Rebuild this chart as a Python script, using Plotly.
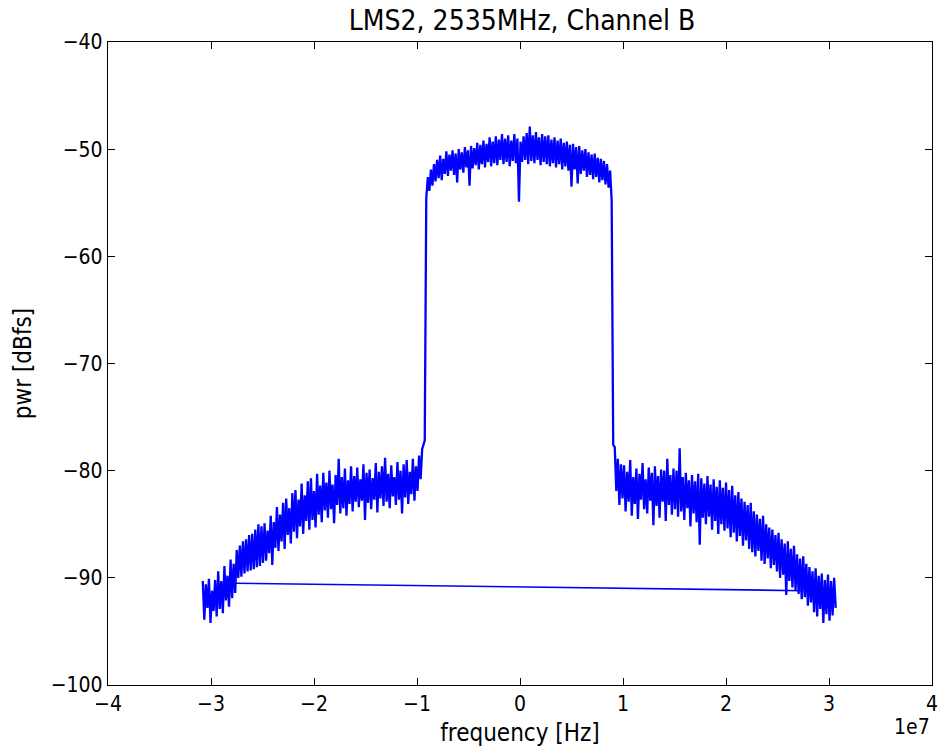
import numpy as np
import plotly.graph_objects as go

# ---- data (frequency in Hz, power in dBFS) ----
left_skirt_range = (-3.08e7, -0.95e7)
left_skirt_dbfs = [
    -90.3, -93.9, -90.6, -92.8, -90.1, -94.2, -91.2, -93.1, -90.2, -93.6,
    -89.4, -92.9, -90.3, -93.3, -88.9, -92.1, -89.8, -92.7, -88.3, -91.9,
    -88.7, -91.4, -87.4, -90.0, -87.0, -89.9, -86.6, -89.6, -86.4, -89.4,
    -86.0, -89.3, -85.9, -89.2, -85.5, -89.0, -85.0, -88.9, -85.2, -88.6,
    -84.9, -88.4, -85.6, -87.7, -84.2, -88.8, -84.8, -87.2, -83.4, -87.5,
    -84.1, -86.6, -83.0, -87.3, -82.6, -86.0, -83.5, -86.8, -82.1, -85.7,
    -81.8, -86.3, -82.7, -85.2, -81.2, -85.9, -82.3, -84.7, -81.0, -85.5,
    -80.7, -84.6, -81.9, -85.3, -80.3, -84.1, -81.4, -84.8, -80.2, -83.7,
    -81.1, -84.4, -80.0, -83.6, -81.3, -84.9, -80.4, -83.2, -78.9, -84.0,
    -80.6, -83.5, -79.8, -84.2, -80.9, -83.1, -79.6, -83.8, -80.5, -82.9,
    -79.7, -83.4, -80.8, -82.8, -79.4, -84.6, -80.2, -83.0, -79.9, -83.6,
    -80.7, -82.7, -79.3, -83.9, -80.1, -82.6, -79.6, -83.3, -78.8, -82.9,
    -80.3, -83.5, -79.5, -82.4, -80.6, -83.2, -79.2, -82.7, -80.0, -84.0,
    -79.4, -82.5, -79.0, -83.1, -80.1, -82.2, -78.9, -82.8, -79.6, -81.9,
    -78.6, -80.8, -78.0,
]

passband_range = (-0.925e7, 0.905e7)
passband_dbfs = [
    -77.2, -54.6, -52.6, -53.9, -51.9, -53.4, -51.4, -53.0, -51.0, -52.7,
    -50.6, -52.9, -50.9, -52.3, -50.2, -52.5, -50.5, -52.0, -50.1, -52.4,
    -50.4, -53.1, -50.0, -51.9, -50.3, -52.2, -49.8, -51.7, -50.1, -53.4,
    -49.7, -51.8, -49.9, -51.5, -49.4, -51.9, -49.6, -51.4, -49.2, -51.7,
    -49.5, -51.2, -48.9, -51.6, -49.3, -51.3, -48.8, -51.5, -49.1, -51.0,
    -48.6, -51.4, -49.0, -51.2, -48.7, -51.6, -49.2, -51.1, -48.6, -51.3,
    -49.0, -54.9, -49.3, -51.2, -48.8, -51.0, -48.5, -51.4, -47.9, -51.1,
    -48.7, -51.3, -48.4, -51.0, -48.9, -51.5, -48.6, -51.2, -48.8, -51.4,
    -48.7, -51.6, -49.1, -51.3, -48.9, -51.7, -49.2, -51.4, -49.0, -51.9,
    -49.4, -51.6, -49.3, -52.0, -49.6, -53.5, -49.5, -51.9, -49.8, -53.2,
    -49.7, -52.3, -50.1, -52.0, -50.0, -52.6, -50.3, -52.4, -50.5, -52.8,
    -50.4, -52.6, -50.8, -53.1, -50.9, -52.9, -51.1, -53.3, -51.4, -53.6,
    -52.0, -54.8, -77.6,
]

right_skirt_range = (0.92e7, 3.065e7)
right_skirt_dbfs = [
    -77.8, -81.9, -78.9, -83.2, -79.4, -82.6,
    -79.5, -83.8, -80.1, -82.9, -79.0, -84.2, -80.6, -83.1, -79.8, -84.5, -80.3, -82.7, -79.3, -83.6, -80.8, -84.0, -79.7,
    -82.8, -80.2, -85.1, -79.6, -83.3, -80.5, -84.4, -79.9, -82.9, -80.0, -84.7, -78.9, -83.2, -80.4, -84.1, -79.8, -83.6,
    -80.0, -84.3, -77.9, -83.8, -80.6, -84.6, -80.2, -83.5, -80.9, -85.2, -80.4, -84.0, -81.0, -84.8, -80.3, -86.9, -80.7,
    -84.4, -81.2, -85.0, -80.5, -84.3, -81.3, -85.5, -80.8, -84.7, -81.5, -85.9, -80.9, -85.0, -81.6, -85.6, -81.1,
    -85.4, -81.8, -86.2, -81.4, -85.8, -82.3, -86.6, -82.0, -86.1, -82.6, -87.0, -82.9, -86.5, -83.2, -87.3, -83.0, -87.6,
    -83.8, -88.0, -84.1, -87.5, -84.5, -88.4, -84.2, -88.7, -85.0, -88.2, -85.3, -89.1, -85.5, -88.8, -86.0, -89.4, -85.8,
    -90.0, -86.4, -89.7, -86.8, -91.6, -86.6, -90.3, -87.3, -90.9, -87.0, -91.2, -87.8, -91.5, -88.2, -92.0, -88.0, -91.8,
    -88.7, -92.6, -89.0, -92.3, -89.4, -93.2, -89.1, -93.6, -89.8, -92.9, -89.6, -94.2, -90.2, -93.4, -89.7, -94.0, -90.3,
    -93.5, -90.0, -92.8,
]

# straight wrap-around segment joining the two skirts
wrap_freq = [-2.77e7, 2.75e7]
wrap_dbfs = [-90.5, -91.2]

x_tick_vals = [-4e7, -3e7, -2e7, -1e7, 0, 1e7, 2e7, 3e7, 4e7]
x_tick_text = ["\u22124", "\u22123", "\u22122", "\u22121", "0", "1", "2", "3", "4"]
y_tick_vals = [-100, -90, -80, -70, -60, -50, -40]
y_tick_text = ["\u2212100", "\u221290", "\u221280", "\u221270", "\u221260", "\u221250", "\u221240"]

# ---- build traces ----
def seg_freq(rng, vals):
    return np.linspace(rng[0], rng[1], len(vals))

freq = np.concatenate([
    seg_freq(left_skirt_range, left_skirt_dbfs),
    seg_freq(passband_range, passband_dbfs),
    seg_freq(right_skirt_range, right_skirt_dbfs),
])
pwr = np.concatenate([left_skirt_dbfs, passband_dbfs, right_skirt_dbfs])

FONT = "DejaVu Sans Condensed, DejaVu Sans, sans-serif"
BLUE = "rgb(0,0,255)"

fig = go.Figure()
fig.add_trace(go.Scatter(x=freq, y=pwr, mode="lines",
                         line=dict(color=BLUE, width=2.3, simplify=False),
                         showlegend=False, hoverinfo="skip"))
fig.add_trace(go.Scatter(x=wrap_freq, y=wrap_dbfs, mode="lines",
                         line=dict(color=BLUE, width=1.6),
                         showlegend=False, hoverinfo="skip"))

axis_common = dict(showline=True, linecolor="black", linewidth=1.3, mirror="allticks",
                   ticks="inside", ticklen=7, tickwidth=1, tickcolor="black",
                   showgrid=False, zeroline=False, automargin=False,
                   tickfont=dict(family=FONT, size=21, color="black"))

fig.update_xaxes(range=[-4e7, 4e7], tickvals=x_tick_vals, ticktext=x_tick_text,
                 title=dict(text="frequency [Hz]", font=dict(family=FONT, size=24, color="black"), standoff=12),
                 **axis_common)
fig.update_yaxes(range=[-100, -40], tickvals=y_tick_vals, ticktext=y_tick_text,
                 title=dict(text="pwr [dBfs]", font=dict(family=FONT, size=24, color="black"), standoff=12),
                 **axis_common)

fig.update_layout(
    width=939, height=747,
    margin=dict(l=108, r=7, t=42, b=62, autoexpand=False),
    paper_bgcolor="white", plot_bgcolor="white",
    title=dict(text="LMS2, 2535MHz, Channel B", x=0.556, xanchor="center", y=0.973, yanchor="middle",
               font=dict(family=FONT, size=28, color="black"), automargin=False),
    annotations=[dict(text="1e7", xref="paper", yref="paper", x=1.0, y=-0.065,
                      xanchor="right", yanchor="middle", showarrow=False,
                      font=dict(family=FONT, size=21, color="black"))],
)

fig.write_html("out.html")
